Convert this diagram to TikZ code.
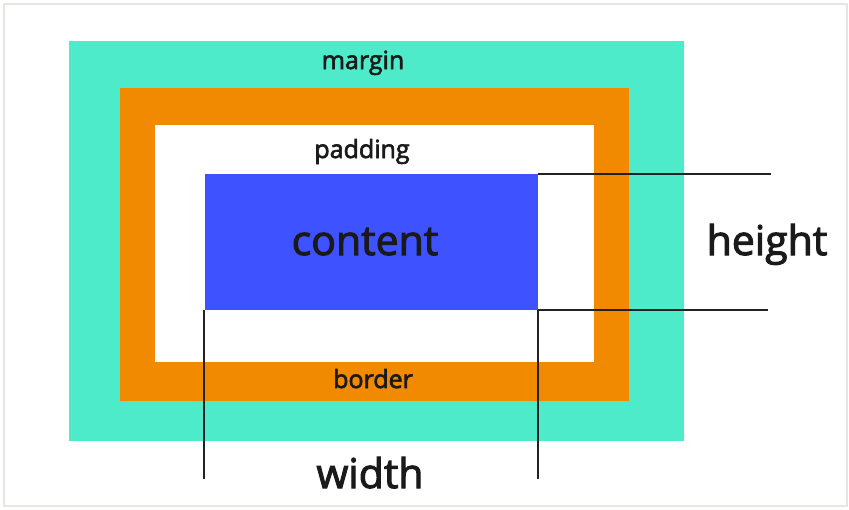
\documentclass[tikz,border=0pt]{standalone}
\usepackage{fontspec}
\setmainfont{Open Sans}
\newfontfamily\semifont{Open Sans}[FakeBold=2.5]
\definecolor{marginc}{RGB}{77,235,201}
\definecolor{borderc}{RGB}{242,138,0}
\definecolor{contentc}{RGB}{63,82,255}
\definecolor{framec}{RGB}{230,230,227}
\definecolor{inkc}{RGB}{26,26,26}
\definecolor{linec}{RGB}{34,34,34}
\begin{document}
\begin{tikzpicture}[x=1pt,y=-1pt,
  boxc/.style={draw=none,inner sep=0pt,outer sep=0pt,rectangle},
  lbl/.style={anchor=base,inner sep=0pt,text=inkc},
  small/.style={lbl,font=\semifont\fontsize{25}{25}\selectfont},
  big/.style={lbl,font=\semifont\fontsize{41}{41}\selectfont},
  dim/.style={draw=linec,line width=1.3pt}]
\useasboundingbox (0,0) rectangle (849,509);
\fill[white] (0,0) rectangle (849,509);
\draw[framec,line width=2pt] (4,4) rectangle (847,506);
\node[boxc,fill=marginc,minimum width=615pt,minimum height=400pt] (margin) at (376.5,241) {};
\node[boxc,fill=borderc,minimum width=509pt,minimum height=313pt] (border) at (374.5,244.5) {};
\node[boxc,fill=white,minimum width=439pt,minimum height=237pt] (padding) at (374.5,243.5) {};
\node[boxc,fill=contentc,minimum width=333pt,minimum height=136pt] (content) at (371.5,242) {};
\node[small] (tmargin) at (363,69) {margin};
\node[small] (tpadding) at (362,158) {padding};
\node[small] (tborder) at (373,388) {border};
\node[big] (tcontent) at (365,255) {content};
\node[big] (theight) at (767,255) {height};
\node[big] (twidth) at (370,488) {width};
\coordinate (h1) at (771,174);
\coordinate (h2) at (768,310);
\coordinate (w1) at (204,479);
\coordinate (w2) at (538,479);
\draw[dim] (content.north east) -- (h1);
\draw[dim] (content.south east) -- (h2);
\draw[dim] ([xshift=-1pt]content.south west) -- (w1);
\draw[dim] (content.south east) -- (w2);
\end{tikzpicture}
\end{document}
